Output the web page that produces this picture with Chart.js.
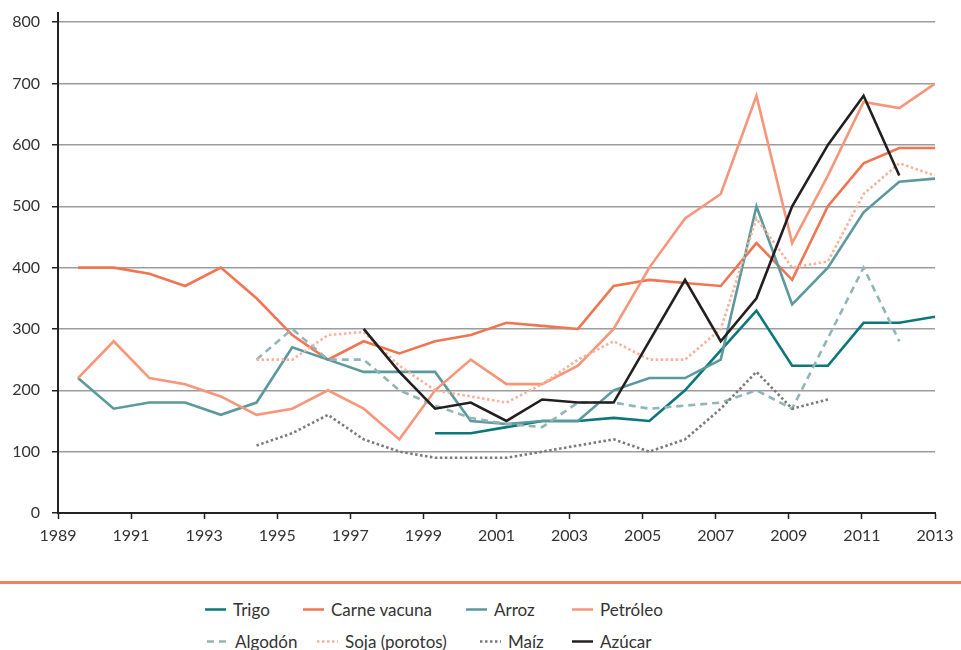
<!DOCTYPE html>
<html>
<head>
<meta charset="utf-8">
<script src="https://cdn.jsdelivr.net/npm/chart.js@4.4.1/dist/chart.umd.min.js"></script>
<style>
  html, body { margin: 0; padding: 0; background: #fff; }
  #page { position: relative; width: 961px; height: 650px; overflow: hidden; font-family: Lato, sans-serif; }
  #wrap { position: absolute; left: 0; top: 0; width: 961px; height: 560px; }
  #rule { position: absolute; left: 0; top: 581px; width: 961px; height: 3px; background: #f0805f; }
  .item { position: absolute; display: flex; align-items: center; font-size: 17px; color: #333; white-space: nowrap; transform: translateY(-50%); }
  .item svg { margin-right: 7px; }
</style>
</head>
<body>
<div id="page">
  <div id="wrap"><canvas id="chart"></canvas></div>
  <div id="rule"></div>
  <div id="legend"></div>
</div>
<script>
// one value per year, 1989 to 2013
const years = [1989, 1990, 1991, 1992, 1993, 1994, 1995, 1996, 1997, 1998, 1999, 2000, 2001,
  2002, 2003, 2004, 2005, 2006, 2007, 2008, 2009, 2010, 2011, 2012, 2013];
const yTicks = [0, 100, 200, 300, 400, 500, 600, 700, 800];

const trigo = [null, null, null, null, null, null, null, null, null, null,
  130, 130, 140, 150, 150, 155, 150, 200, 265, 330, 240, 240, 310, 310, 320];
const carneVacuna = [400, 400, 390, 370, 400, 350, 290, 250, 280, 260, 280, 290, 310,
  305, 300, 370, 380, 375, 370, 440, 380, 500, 570, 595, 595];
const arroz = [220, 170, 180, 180, 160, 180, 270, 250, 230, 230, 230, 150, 145,
  150, 150, 200, 220, 220, 250, 500, 340, 400, 490, 540, 545];
const petroleo = [220, 280, 220, 210, 190, 160, 170, 200, 170, 120, 200, 250, 210,
  210, 240, 300, 400, 480, 520, 680, 440, 550, 670, 660, 700];
const algodon = [null, null, null, null, null, 250, 300, 250, 250, 200, 175, 155, 145,
  140, 180, 180, 170, 175, 180, 200, 170, 285, 400, 280, null];
const soja = [null, null, null, null, null, 250, 250, 290, 295, 240, 200, 190, 180,
  210, 250, 280, 250, 250, 300, 480, 400, 410, 520, 570, 550];
const maiz = [null, null, null, null, null, 110, 130, 160, 120, 100, 90, 90, 90,
  100, 110, 120, 100, 120, 170, 230, 170, 185, null, null, null];
const azucar = [null, null, null, null, null, null, null, null, 300, 230, 170, 180, 150,
  185, 180, 180, 280, 380, 280, 350, 500, 600, 680, 550, null];

const series = [
  { label: 'Trigo', data: trigo, color: '#0b777a', dash: [] },
  { label: 'Carne vacuna', data: carneVacuna, color: '#f07551', dash: [] },
  { label: 'Arroz', data: arroz, color: '#5c999c', dash: [] },
  { label: 'Petróleo', data: petroleo, color: '#f7967a', dash: [] },
  { label: 'Algodón', data: algodon, color: '#91b5b7', dash: [7, 5] },
  { label: 'Soja (porotos)', data: soja, color: '#f8b29b', dash: [2.5, 2.5] },
  { label: 'Maíz', data: maiz, color: '#7a7a7a', dash: [2.5, 2.5] },
  { label: 'Azúcar', data: azucar, color: '#231f20', dash: [] },
];

const tickFont = { family: 'Lato', size: 16 };

const chart = new Chart(document.getElementById('chart'), {
  type: 'line',
  data: {
    labels: years,
    datasets: series.map((s, i) => ({
      label: s.label,
      data: s.data,
      borderColor: s.color,
      backgroundColor: s.color,
      borderWidth: 2.6,
      borderDash: s.dash,
      borderCapStyle: 'butt',
      pointRadius: 0,
      tension: 0,
      fill: false,
      xAxisID: 'x',
      order: series.length - i, // later series on top
    })),
  },
  options: {
    responsive: true,
    maintainAspectRatio: false,
    animation: false,
    layout: { padding: { top: 13, right: 26, bottom: 7, left: 0 } },
    plugins: {
      legend: { display: false },
      tooltip: { enabled: false },
    },
    scales: {
      // the plotted years sit a little to the right of the printed axis
      x: {
        type: 'linear',
        display: false,
        min: 1988.44,
        max: 2013,
      },
      year: {
        type: 'linear',
        position: 'bottom',
        min: 1989,
        max: 2013,
        z: 1,
        ticks: {
          stepSize: 2,
          color: '#333',
          font: tickFont,
          padding: 7,
          maxRotation: 0,
          callback: (value) => String(value),
        },
        grid: {
          drawOnChartArea: false,
          drawTicks: true,
          tickLength: 6,
          tickColor: '#222',
          tickWidth: 1.5,
        },
        border: { color: '#222', width: 2 },
        afterFit: (axis) => { axis.height = 40; },
      },
      y: {
        min: 0,
        max: 815,
        ticks: {
          color: '#333',
          font: tickFont,
          padding: 12,
        },
        afterBuildTicks: (axis) => {
          axis.ticks = yTicks.map((v) => ({ value: v }));
        },
        grid: {
          color: '#9c9c9c',
          lineWidth: 1.5,
          drawTicks: true,
          tickLength: 6,
          tickColor: '#222',
          tickWidth: 1.5,
        },
        border: { color: '#222', width: 2 },
        afterFit: (axis) => {
          axis.width = 58;
          axis.paddingTop = 0;
          axis.paddingBottom = 0;
        },
      },
    },
  },
});

// legend in two rows of four, built from the chart's datasets
const legendSlots = [[205, 609], [303, 609], [466, 609], [572, 609],
  [207, 641], [317, 641], [480, 641], [572, 641]];
const legend = document.getElementById('legend');
chart.data.datasets.forEach((ds, i) => {
  const el = document.createElement('div');
  el.className = 'item';
  el.style.left = legendSlots[i][0] + 'px';
  el.style.top = legendSlots[i][1] + 'px';
  const dash = ds.borderDash.length ? ds.borderDash.join(' ') : 'none';
  el.innerHTML = `<svg width="21" height="6"><line x1="0" y1="3" x2="21" y2="3" stroke="${ds.borderColor}" stroke-width="2.5" stroke-dasharray="${dash}"/></svg><span>${ds.label}</span>`;
  legend.appendChild(el);
});
</script>
</body>
</html>
